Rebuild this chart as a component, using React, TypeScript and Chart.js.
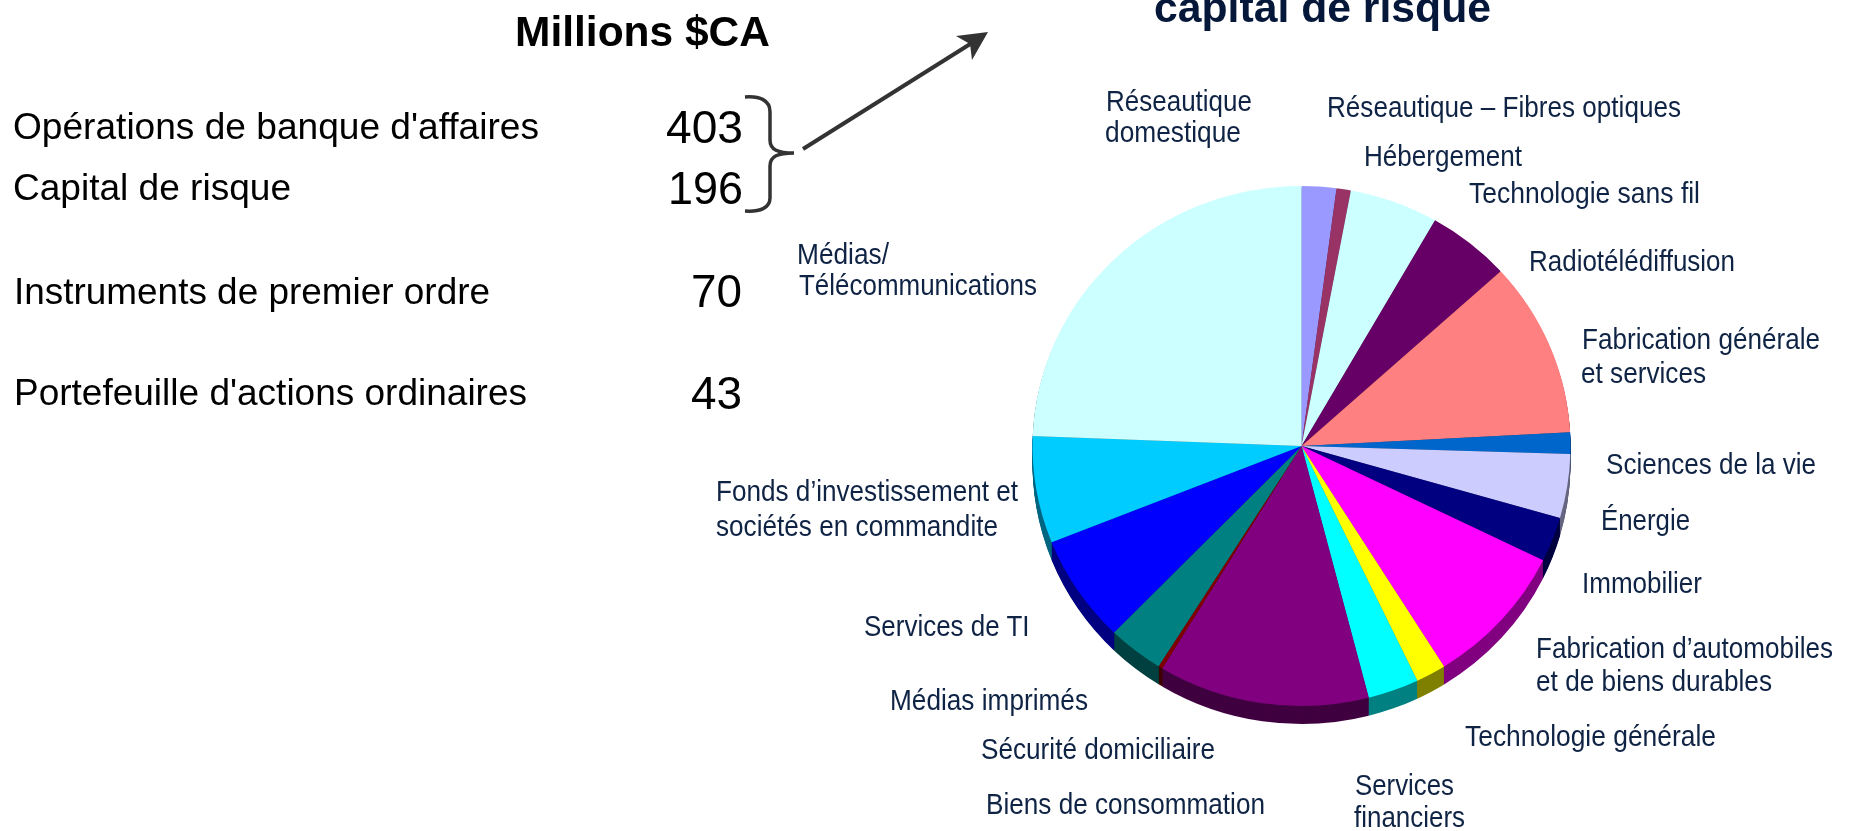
import React, { useEffect, useRef } from "react";
import { Chart, registerables } from "chart.js";

Chart.register(...registerables);

const sectors = [
  "Réseautique domestique", "Réseautique – Fibres optiques", "Hébergement", "Technologie sans fil",
  "Radiotélédiffusion", "Fabrication générale et services", "Sciences de la vie", "Énergie",
  "Immobilier", "Fabrication d’automobiles et de biens durables", "Technologie générale",
  "Services financiers", "Biens de consommation", "Sécurité domiciliaire", "Médias imprimés",
  "Services de TI", "Fonds d’investissement et sociétés en commandite", "Médias/Télécommunications",
];
const sectorShares = [2.08, 0.86, 0, 5.33, 5, 10.89, 1.33, 3.97, 2.78, 8.86, 1.81, 3.06, 12.69, 0.25, 3.36, 6.69, 6.64, 24.39];
const sectorColors = ["#9999FF", "#993366", "#FFFFCC", "#CCFFFF", "#660066", "#FF8080", "#0066CC", "#CCCCFF", "#000080", "#FF00FF", "#FFFF00", "#00FFFF", "#800080", "#800000", "#008080", "#0000FF", "#00CCFF", "#CCFFFF"];
const sectorShades = ["#4D4D80", "#4D1A33", "#808066", "#668080", "#330033", "#804040", "#003366", "#666680", "#000040", "#800080", "#808000", "#008080", "#400040", "#400000", "#004040", "#000080", "#006680", "#668080"];

const tableRows = ["Opérations de banque d'affaires", "Capital de risque", "Instruments de premier ordre", "Portefeuille d'actions ordinaires"];
const tableValues = ["403", "196", "70", "43"];

const NAVY = "#0F2344";
const SANS = "'Liberation Sans', Arial, sans-serif";

type T = { t: string; x0: number; x1: number; y: number; s: number; c: string; b?: boolean };
const rowGeo = [[13, 539, 139], [13, 291, 200], [14, 490, 304], [14, 527, 405]];
const valGeo = [[666, 743, 143, 47], [668, 743, 204, 47], [691, 742, 307, 47], [691, 742, 409, 47]];
const labelGeo: [string, number, number, number][] = [
  ["Réseautique", 1106, 1252, 112], ["domestique", 1105, 1241, 143],
  ["Réseautique – Fibres optiques", 1327, 1681, 118], ["Hébergement", 1364, 1522, 167],
  ["Technologie sans fil", 1469, 1700, 204], ["Radiotélédiffusion", 1529, 1735, 272],
  ["Médias/", 797, 889, 265], ["Télécommunications", 799, 1037, 296],
  ["Fabrication générale", 1582, 1820, 350], ["et services", 1581, 1706, 384],
  ["Sciences de la vie", 1606, 1816, 475], ["Énergie", 1601, 1690, 531],
  ["Immobilier", 1582, 1702, 594], ["Fabrication d’automobiles", 1536, 1833, 659],
  ["et de biens durables", 1536, 1772, 692], ["Technologie générale", 1465, 1716, 747],
  ["Services", 1355, 1454, 796], ["financiers", 1354, 1465, 828],
  ["Fonds d’investissement et", 716, 1018, 502], ["sociétés en commandite", 716, 998, 537],
  ["Services de TI", 864, 1030, 637], ["Médias imprimés", 890, 1088, 711],
  ["Sécurité domiciliaire", 981, 1215, 760], ["Biens de consommation", 986, 1265, 815],
];

const texts: T[] = [
  { t: "Millions $CA", x0: 515, x1: 770, y: 47, s: 42, c: "#000", b: true },
  { t: "capital de risque", x0: 1154, x1: 1491, y: 23, s: 42, c: "#06183A", b: true },
  ...tableRows.map((t, i) => ({ t, x0: rowGeo[i][0], x1: rowGeo[i][1], y: rowGeo[i][2], s: 36, c: "#000" })),
  ...tableValues.map((t, i) => ({ t, x0: valGeo[i][0], x1: valGeo[i][1], y: valGeo[i][2], s: valGeo[i][3], c: "#000" })),
  ...labelGeo.map(([t, x0, x1, y]) => ({ t, x0, x1, y, s: 29, c: NAVY })),
];

const measure = document.createElement("canvas").getContext("2d")!;
function scaleFor(d: T) {
  measure.font = `${d.b ? "bold " : ""}${d.s}px ${SANS}`;
  return (d.x1 - d.x0) / measure.measureText(d.t).width;
}

const ellipsePie = {
  id: "ellipsePie",
  beforeDatasetDraw(chart: any) {
    const arcs = chart.getDatasetMeta(0).data;
    const { x, y } = arcs[0];
    const ctx = chart.ctx;
    ctx.save();
    ctx.translate(x, y);
    ctx.scale(1, 260 / 269);
    ctx.translate(-x, -y);
    for (let d = 18; d >= 1; d--) {
      ctx.save();
      ctx.translate(0, d * (269 / 260));
      arcs.forEach((arc: any, i: number) => {
        const shade = Object.create(arc);
        shade.options = { ...arc.options, backgroundColor: sectorShades[i], borderWidth: 0 };
        arc.draw.call(shade, ctx);
      });
      ctx.restore();
    }
  },
  afterDatasetDraw(chart: any) {
    chart.ctx.restore();
  },
  afterDraw(chart: any) {
    const ctx = chart.ctx;
    ctx.save();
    ctx.strokeStyle = "#333333";
    ctx.fillStyle = "#333333";
    ctx.lineWidth = 3.5;
    ctx.beginPath();
    ctx.moveTo(745, 97);
    ctx.bezierCurveTo(760, 96, 770, 100, 770, 112);
    ctx.lineTo(770, 140);
    ctx.bezierCurveTo(770, 150, 778, 153, 794, 153);
    ctx.bezierCurveTo(778, 153, 770, 156, 770, 166);
    ctx.lineTo(770, 198);
    ctx.bezierCurveTo(770, 208, 760, 212, 745, 211);
    ctx.stroke();
    ctx.lineWidth = 4;
    ctx.beginPath();
    ctx.moveTo(803, 149);
    ctx.lineTo(975, 41);
    ctx.stroke();
    ctx.beginPath();
    ctx.moveTo(988, 32);
    ctx.lineTo(956, 36);
    ctx.lineTo(970, 44);
    ctx.lineTo(972, 60);
    ctx.closePath();
    ctx.fill();
    ctx.restore();
  },
};

export default function App() {
  const ref = useRef<HTMLCanvasElement>(null);
  useEffect(() => {
    const chart = new Chart(ref.current!, {
      type: "pie",
      data: {
        labels: sectors,
        datasets: [{ data: sectorShares, backgroundColor: sectorColors, borderWidth: 0 }],
      },
      options: {
        animation: false,
        responsive: false,
        events: [],
        layout: { padding: { left: 1032.5, right: 287.5, top: 177, bottom: 116 } },
        plugins: { legend: { display: false }, tooltip: { enabled: false }, title: { display: false } },
      },
      plugins: [ellipsePie],
    } as any);
    return () => chart.destroy();
  }, []);
  return (
    <div style={{ position: "fixed", left: 0, top: 0, width: 1858, height: 831, overflow: "hidden", background: "#fff" }}>
      <canvas ref={ref} width={1858} height={831} style={{ position: "absolute", left: 0, top: 0 }} />
      {texts.map((d, i) => (
        <span
          key={i}
          style={{
            position: "absolute",
            left: d.x0,
            top: d.y - 0.8465 * d.s,
            fontFamily: SANS,
            fontSize: d.s,
            lineHeight: 1,
            fontWeight: d.b ? 700 : 400,
            color: d.c,
            whiteSpace: "pre",
            transformOrigin: "0 0",
            transform: `scaleX(${scaleFor(d)})`,
          }}
        >
          {d.t}
        </span>
      ))}
    </div>
  );
}
